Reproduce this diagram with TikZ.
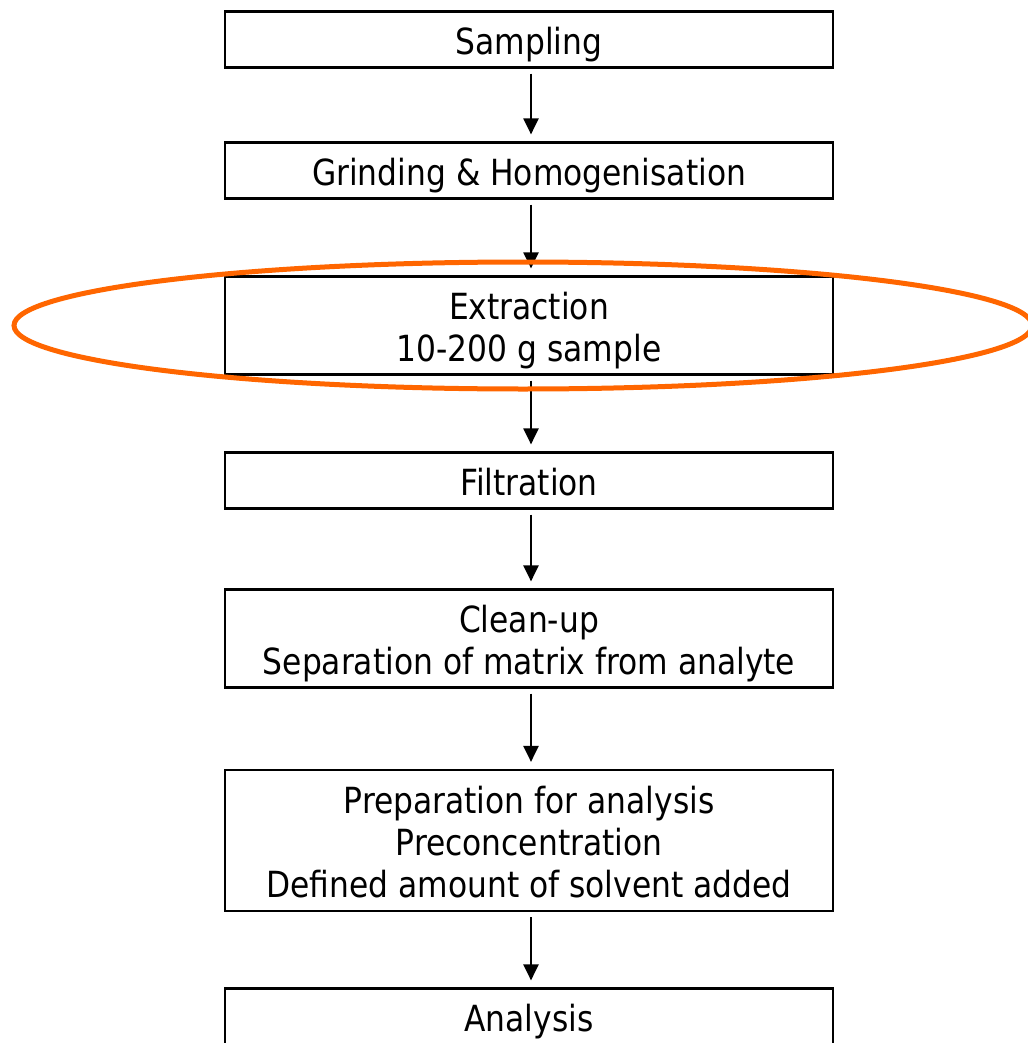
\documentclass[tikz,border=0pt]{standalone}
\usepackage{fontspec}
\usetikzlibrary{arrows.meta,shapes.geometric}
\newfontfamily\boxfont[FakeStretch=0.87]{DejaVu Sans}
\definecolor{hiorange}{HTML}{FF6600}
% centred lines of a step, with a little extra room above them
\newcommand\steptext[1]{\raisebox{0pt}[\dimexpr\height+14pt\relax][\depth]{%
  \begin{tabular}{@{}c@{}}#1\end{tabular}}}
\begin{document}
\begin{tikzpicture}[x=1pt,y=1pt,
  stepbox/.style={draw, line width=2.2pt, minimum width=608pt,
    inner sep=0pt, text=black,
    font=\boxfont\fontsize{36}{42}\selectfont},
  flowarrow/.style={line width=2.2pt, -{Triangle[length=16pt,width=15pt]},
    shorten <=5pt, shorten >=7pt}]
\useasboundingbox (0,0) rectangle (1027,-1043);

% process steps
\node[stepbox, minimum height=55pt]   (sampling)   at (529,-39.5)  {\steptext{Sampling}};
\node[stepbox, minimum height=55.5pt] (grinding)   at (529,-170.5) {\steptext{Grinding \& Homogenisation}};
\node[stepbox, minimum height=97pt]   (extraction) at (529,-325.5) {\steptext{Extraction\\10-200 g sample}};
\node[stepbox, minimum height=55pt]   (filtration) at (529,-480.5) {\steptext{Filtration}};
\node[stepbox, minimum height=97pt]   (cleanup)    at (529,-638.5) {\steptext{Clean-up\\Separation of matrix from analyte}};
\node[stepbox, minimum height=141pt]  (prep)       at (529,-840.5) {\steptext{Preparation for analysis\\Preconcentration\\Defined amount of solvent added}};
\node[stepbox, minimum height=55pt]   (analysis)   at (529,-1016.5) {\steptext{Analysis}};

% connectors
\foreach \a/\b in {sampling/grinding, grinding/extraction, extraction/filtration,
                   filtration/cleanup, cleanup/prep, prep/analysis}
  \draw[flowarrow] ([xshift=2pt]\a.south) -- ([xshift=2pt]\b.north);

% highlight around the extraction step
\node[ellipse, draw=hiorange, line width=5pt, minimum width=1018pt,
      minimum height=127pt, inner sep=0pt] (highlight) at (523,-325.5) {};
\end{tikzpicture}
\end{document}
